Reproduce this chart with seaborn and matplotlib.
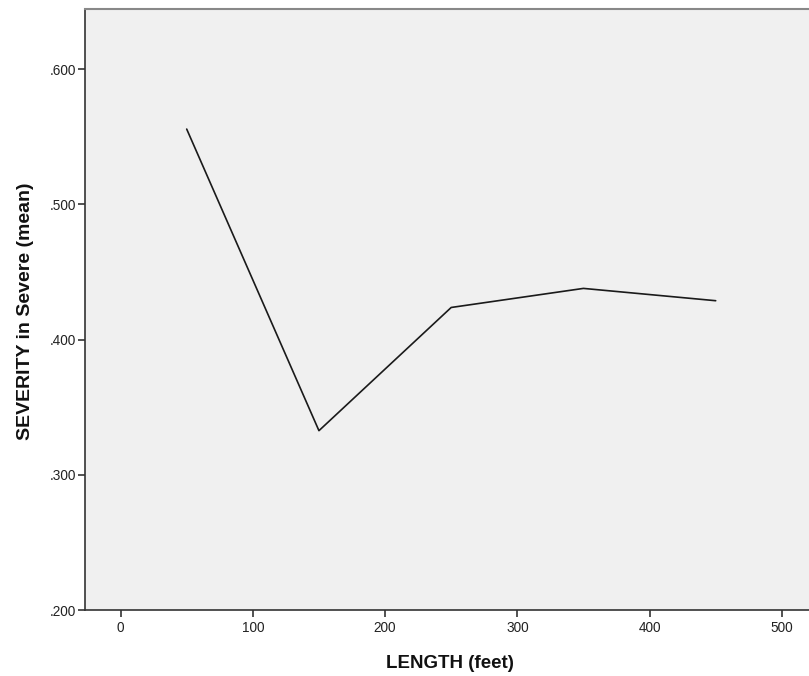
import matplotlib
matplotlib.use("Agg")
import matplotlib.pyplot as plt
import seaborn as sns
import pandas as pd

length_feet = [50, 150, 250, 350, 450]
severity_mean = [0.5556, 0.3326, 0.4237, 0.4378, 0.4287]
x_ticks = [0, 100, 200, 300, 400, 500]
y_ticks = [0.2, 0.3, 0.4, 0.5, 0.6]
y_tick_labels = [".200", ".300", ".400", ".500", ".600"]

df = pd.DataFrame({"LENGTH (feet)": length_feet, "SEVERITY in Severe (mean)": severity_mean})

sns.set_style("ticks")
plt.rcParams['font.family'] = ['Liberation Sans', 'DejaVu Sans']

W, H = 809, 676
fig = plt.figure(figsize=(W / 100, H / 100), dpi=100)
left, right, top, bottom = 85, 815, 9, 610
ax = fig.add_axes([left / W, 1 - bottom / H, (right - left) / W, (bottom - top) / H])
ax.set_facecolor("#F0F0F0")

sns.lineplot(data=df, x="LENGTH (feet)", y="SEVERITY in Severe (mean)", ax=ax,
             color="#1a1a1a", linewidth=1.2, estimator=None)

ax.set_xlim(-26.9, 525.1)
ax.set_ylim(0.2, 0.6444)
ax.set_xticks(x_ticks)
ax.set_xticklabels([str(v) for v in x_ticks])
ax.set_yticks(y_ticks)
ax.set_yticklabels(y_tick_labels)
ax.tick_params(axis="both", direction="out", length=5, width=1.2, color="#333333",
               labelsize=9.8, labelcolor="#222222")
ax.tick_params(axis="x", pad=3)
ax.tick_params(axis="y", pad=1.5)

for s in ["left", "bottom"]:
    ax.spines[s].set_color("#333333")
    ax.spines[s].set_linewidth(1.2)
ax.spines["top"].set_visible(True)
ax.spines["top"].set_color("#888888")
ax.spines["top"].set_linewidth(1.5)
ax.spines["right"].set_visible(False)

ax.set_xlabel("LENGTH (feet)", fontsize=13.5, fontweight="bold", color="#111111")
ax.set_ylabel("SEVERITY in Severe (mean)", fontsize=14, fontweight="bold", color="#111111")
ax.xaxis.set_label_coords((450 - left) / (right - left), -(664 - bottom) / (bottom - top))
ax.yaxis.set_label_coords(-(85 - 26) / (right - left), (bottom - 311) / (bottom - top))
ax.xaxis.label.set_va("center")
ax.yaxis.label.set_va("center")

fig.savefig("out.png", dpi=100, facecolor="white")
